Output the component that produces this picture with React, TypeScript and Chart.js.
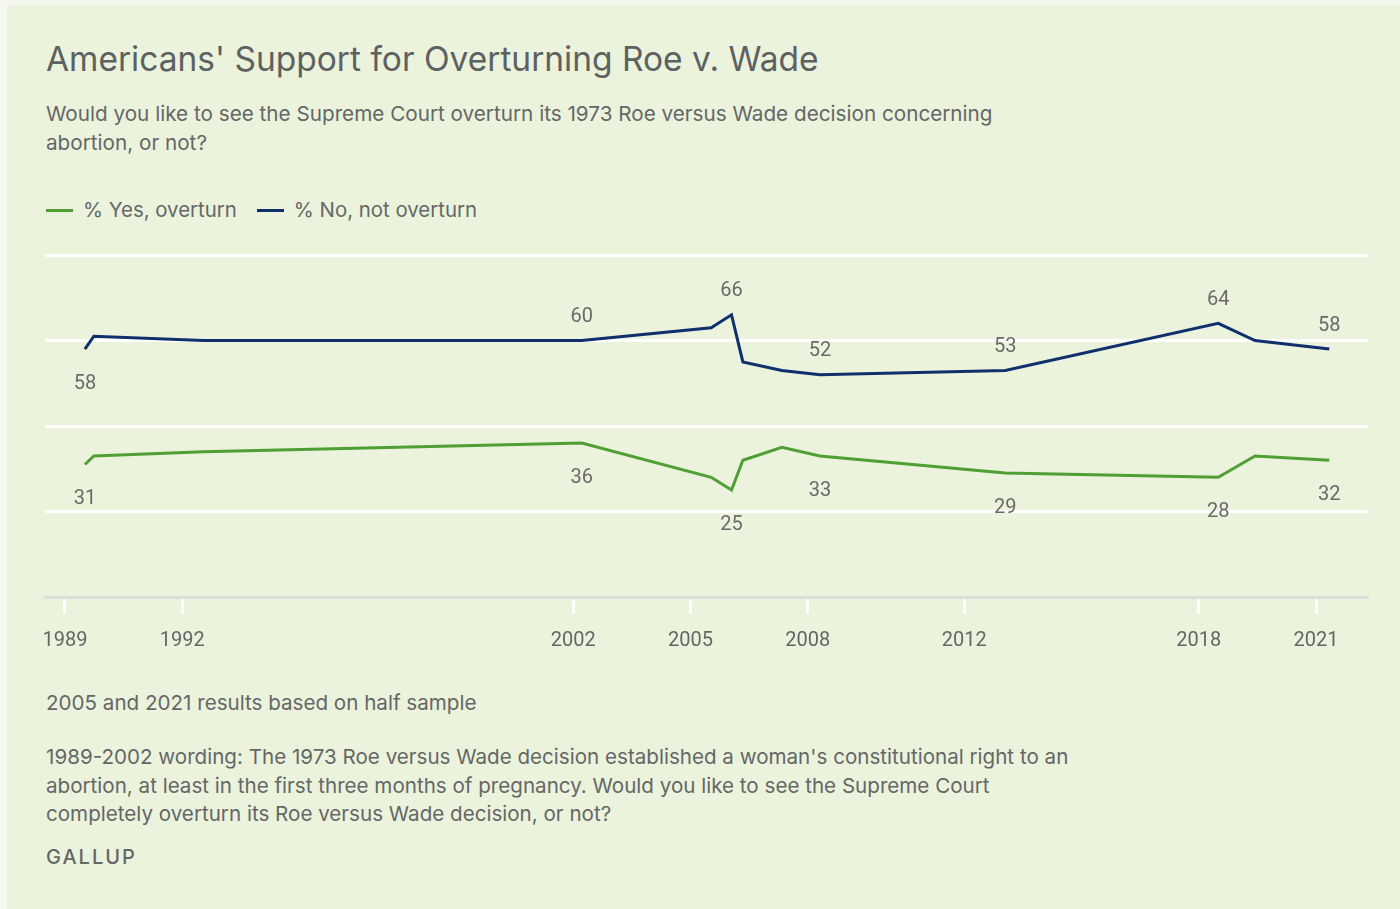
import React, { useEffect, useRef } from "react";
import { Chart, registerables } from "chart.js";

Chart.register(...registerables);

const years = [1989.51, 1989.74, 1992.54, 2002.22, 2005.53, 2006.05, 2006.34, 2007.34, 2008.31, 2013.05, 2018.5, 2019.44, 2021.34];
const yesOverturn = [31, 33, 34, 36, 28, 25, 32, 35, 33, 29, 28, 33, 32];
const noNotOverturn = [58, 61, 60, 60, 63, 66, 55, 53, 52, 53, 64, 60, 58];
const tickYears = [1989, 1992, 2002, 2005, 2008, 2012, 2018, 2021];
const labeledIdx = [0, 3, 5, 8, 9, 10, 12];

const GREEN = "#4f9f35";
const BLUE = "#102f6d";
const BG = "#ebf3dc";
const TEXT = "#656767";

const labelPlugin = {
  id: "pointLabels",
  afterDatasetsDraw(chart: any) {
    const ctx = chart.ctx;
    ctx.save();
    ctx.font = "20px Roboto";
    ctx.fillStyle = "#6a6a6a";
    ctx.textAlign = "center";
    ctx.textBaseline = "middle";
    chart.data.datasets.forEach((ds: any, di: number) => {
      const meta = chart.getDatasetMeta(di);
      labeledIdx.forEach((i) => {
        const el = meta.data[i];
        if (!el) return;
        const v = ds.data[i].y;
        const above = di === 1 && i !== 0;
        const y = above ? el.y - 23.5 : el.y + 35;
        ctx.fillText(String(v), el.x, y);
      });
    });
    ctx.restore();
  },
};

export default function App() {
  const ref = useRef<HTMLCanvasElement>(null);
  useEffect(() => {
    document.body.style.margin = "0";
    document.body.style.background = "#f4f8ee";
    const chart = new Chart(ref.current!, {
      type: "line",
      data: {
        datasets: [
          {
            label: "% Yes, overturn",
            data: years.map((x, i) => ({ x, y: yesOverturn[i] })),
            borderColor: GREEN,
            borderWidth: 3,
            pointRadius: 0,
            tension: 0,
          },
          {
            label: "% No, not overturn",
            data: years.map((x, i) => ({ x, y: noNotOverturn[i] })),
            borderColor: BLUE,
            borderWidth: 3,
            pointRadius: 0,
            tension: 0,
          },
        ],
      },
      options: {
        animation: false,
        responsive: false,
        maintainAspectRatio: false,
        layout: { padding: { left: 45, right: 32, top: 10, bottom: 0 } },
        plugins: { legend: { display: false }, tooltip: { enabled: false } },
        scales: {
          x: {
            type: "linear",
            min: 1988.49,
            max: 2022.33,
            afterBuildTicks: (s: any) => {
              s.ticks = tickYears.map((v) => ({ value: v }));
            },
            ticks: {
              callback: (v: any) => String(v),
              font: { family: "Roboto", size: 20 },
              color: TEXT,
              padding: 15,
              maxRotation: 0,
              autoSkip: false,
            },
            grid: {
              drawOnChartArea: false,
              drawTicks: true,
              tickLength: 17,
              tickColor: "#ffffff",
              tickWidth: 3,
            },
            border: { display: true, color: "#dcdedb", width: 3 },
          },
          y: {
            min: 0,
            max: 80,
            ticks: { display: false, stepSize: 20 },
            afterFit: (s: any) => {
              s.width = 0;
            },
            grid: {
              drawTicks: false,
              color: (c: any) => (c.tick && c.tick.value === 0 ? "rgba(0,0,0,0)" : "#ffffff"),
              lineWidth: 3,
            },
            border: { display: false },
          },
        },
      },
      plugins: [labelPlugin],
    });
    return () => chart.destroy();
  }, []);

  const font = "Inter, 'Noto Sans', sans-serif";
  const abs = (top: number, extra: React.CSSProperties = {}): React.CSSProperties => ({
    position: "absolute",
    left: 46,
    top,
    whiteSpace: "nowrap",
    color: TEXT,
    fontFamily: font,
    ...extra,
  });

  return (
    <div style={{ position: "relative", width: 1400, height: 909, overflow: "hidden" }}>
      <div style={{ position: "absolute", left: 7, top: 5, width: 1393, height: 904, background: BG }} />
      <div style={abs(37, { fontSize: 33.5, lineHeight: "44px", color: "#5d6161" })}>
        Americans' Support for Overturning Roe v. Wade
      </div>
      <div style={abs(99, { fontSize: 20.7, lineHeight: "29px" })}>
        Would you like to see the Supreme Court overturn its 1973 Roe versus Wade decision concerning
        <br />
        abortion, or not?
      </div>
      <div style={abs(198, { fontSize: 20.4, lineHeight: "24px", display: "flex", alignItems: "center" })}>
        <span style={{ display: "inline-block", width: 27, height: 3, background: GREEN, marginRight: 10 }} />
        <span>% Yes, overturn</span>
        <span style={{ display: "inline-block", width: 27, height: 3, background: BLUE, marginLeft: 20, marginRight: 10 }} />
        <span>% No, not overturn</span>
      </div>
      <canvas ref={ref} width={1400} height={423} style={{ position: "absolute", left: 0, top: 245, width: 1400, height: 423 }} />
      <div style={abs(689, { fontSize: 20.6, lineHeight: "28px" })}>2005 and 2021 results based on half sample</div>
      <div style={abs(743, { fontSize: 20.6, lineHeight: "28.5px" })}>
        1989-2002 wording: The 1973 Roe versus Wade decision established a woman's constitutional right to an
        <br />
        abortion, at least in the first three months of pregnancy. Would you like to see the Supreme Court
        <br />
        completely overturn its Roe versus Wade decision, or not?
      </div>
      <div style={abs(844, { fontSize: 20, lineHeight: "26px", letterSpacing: 2, fontWeight: 500 })}>GALLUP</div>
    </div>
  );
}
